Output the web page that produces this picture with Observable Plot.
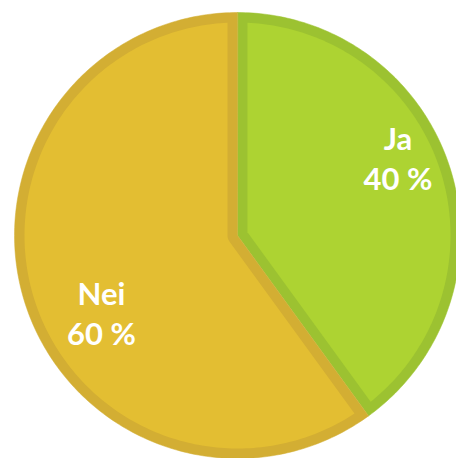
<!DOCTYPE html>
<html>
<head>
<meta charset="utf-8">
<script src="https://cdn.jsdelivr.net/npm/d3@7"></script>
<script src="https://cdn.jsdelivr.net/npm/@observablehq/plot@0.6"></script>
<style>
  html, body { margin: 0; padding: 0; background: #ffffff; }
  #chart svg { display: block; }
</style>
</head>
<body>
<div id="chart"></div>
<script>
// ---- data ----
const categories = ["Ja", "Nei"];
const values = [40, 60];
const valueLabels = ["40 %", "60 %"];
const fillColors = ["#add332", "#e3be32"];
const borderColors = ["#9cc231", "#d3ae33"];

// ---- layout (pixels) ----
const W = 456, H = 458;
const CX = 237, CY = 235, R = 223, BORDER = 10;
// label anchor positions in pie units (x right, y up, radius = 1)
const labelPos = [[0.72, 0.352], [-0.61, -0.345]];

const rad = a => a * Math.PI / 180;
const pt = (r, a) => ({x: r * Math.sin(rad(a)), y: r * Math.cos(rad(a))});

const total = d3.sum(values);
let acc = 0;
const slices = values.map((v, i) => {
  const a0 = acc / total * 360;
  acc += v;
  const a1 = acc / total * 360;
  return {i, a0, a1};
});

function arcPts(r, from, to) {
  const pts = [];
  const n = Math.max(2, Math.ceil(Math.abs(to - from)));
  for (let k = 0; k <= n; k++) pts.push(pt(r, from + (to - from) * k / n));
  return pts;
}

function outerPoly(s) {
  return [{x: 0, y: 0}, ...arcPts(1, s.a0, s.a1)];
}

function innerPoly(s) {
  const d = BORDER / R;
  const ri = 1 - d;
  const delta = Math.asin(d / ri) * 180 / Math.PI;
  const theta = s.a1 - s.a0;
  if (theta <= 180) {
    const corner = pt(d / Math.sin(rad(theta / 2)), (s.a0 + s.a1) / 2);
    return [corner, ...arcPts(ri, s.a0 + delta, s.a1 - delta)];
  } else {
    return [
      ...arcPts(d, s.a1 - 90, s.a0 + 90),
      ...arcPts(ri, s.a0 + delta, s.a1 - delta)
    ];
  }
}

const marks = [];
slices.forEach(s => {
  marks.push(Plot.line(outerPoly(s), {x: "x", y: "y", curve: "linear-closed", fill: borderColors[s.i], stroke: borderColors[s.i], strokeWidth: 0.5}));
});
slices.forEach(s => {
  marks.push(Plot.line(innerPoly(s), {x: "x", y: "y", curve: "linear-closed", fill: fillColors[s.i], stroke: "none"}));
});

const labels = categories.map((c, i) => ({text: c + "\n" + valueLabels[i], x: labelPos[i][0], y: labelPos[i][1]}));
marks.push(Plot.text(labels, {
  x: "x", y: "y", text: "text",
  fill: "white", fontSize: 31, fontWeight: "bold",
  fontFamily: "Lato, 'DejaVu Sans', sans-serif",
  lineHeight: 1.29, textAnchor: "middle", lineAnchor: "middle"
}));

const chart = Plot.plot({
  width: W, height: H,
  margin: 0,
  x: {domain: [-CX / R, (W - CX) / R], axis: null},
  y: {domain: [-(H - CY) / R, CY / R], axis: null},
  marks
});
document.getElementById("chart").appendChild(chart);
</script>
</body>
</html>
